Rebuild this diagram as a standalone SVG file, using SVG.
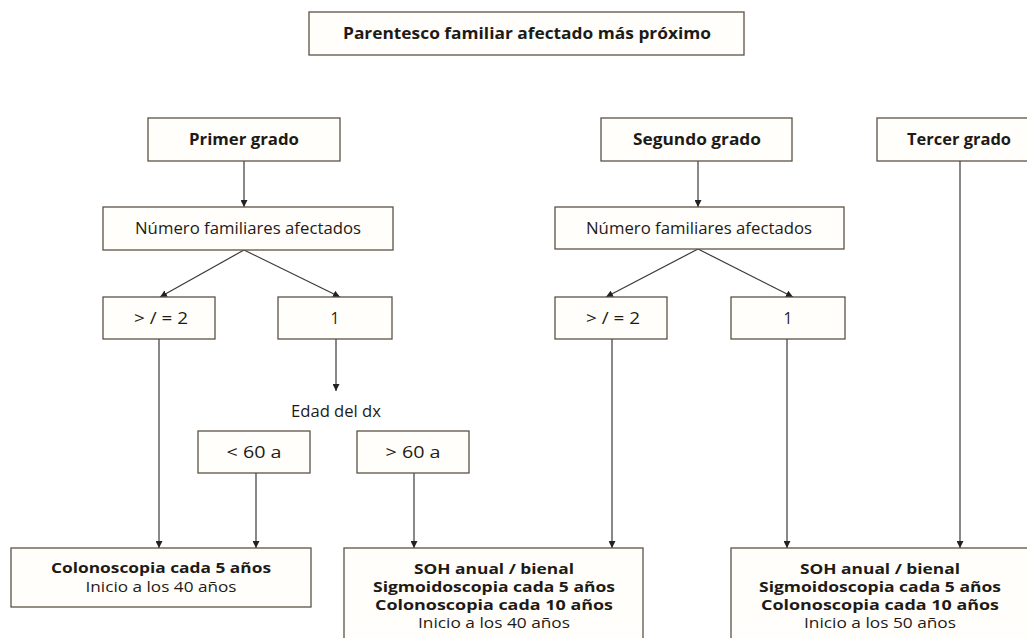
<svg xmlns="http://www.w3.org/2000/svg" width="1027" height="638" viewBox="0 0 1027 638">
<defs>
<style>
.box{fill:#fffefb;stroke:#5b5246;stroke-width:1.3}
.t{font-family:"Open Sans","Noto Sans","DejaVu Sans",sans-serif;font-size:15.5px;fill:#1e1a16;text-anchor:middle}
.s{font-size:14px}
.b{font-weight:bold}
.c line{stroke:#3a3a3a;stroke-width:1.2}
</style>
<marker id="ah" viewBox="0 0 10 10" refX="10" refY="5" markerWidth="7" markerHeight="7" orient="auto" markerUnits="userSpaceOnUse">
<path d="M0,0 L10,5 L0,10 z" fill="#222"/>
</marker>
</defs>
<rect width="1027" height="638" fill="#ffffff"/>

<g class="c">
<line x1="244" y1="161" x2="244" y2="207" marker-end="url(#ah)"/>
<line x1="244" y1="250" x2="160" y2="297" marker-end="url(#ah)"/>
<line x1="244" y1="250" x2="340" y2="297" marker-end="url(#ah)"/>
<line x1="159" y1="339" x2="159" y2="548" marker-end="url(#ah)"/>
<line x1="336" y1="339" x2="336" y2="391" marker-end="url(#ah)"/>
<line x1="256" y1="473" x2="256" y2="548" marker-end="url(#ah)"/>
<line x1="414" y1="473" x2="414" y2="548" marker-end="url(#ah)"/>
<line x1="698" y1="161" x2="698" y2="207" marker-end="url(#ah)"/>
<line x1="698" y1="249" x2="606" y2="297" marker-end="url(#ah)"/>
<line x1="698" y1="249" x2="793" y2="297" marker-end="url(#ah)"/>
<line x1="612" y1="339" x2="612" y2="548" marker-end="url(#ah)"/>
<line x1="787" y1="339" x2="787" y2="548" marker-end="url(#ah)"/>
<line x1="960" y1="161" x2="960" y2="548" marker-end="url(#ah)"/>
</g>

<g id="n-title"><rect class="box" x="309" y="12" width="435" height="43"/>
<text class="t b" x="527" y="39" textLength="368" lengthAdjust="spacingAndGlyphs">Parentesco familiar afectado más próximo</text></g>

<g id="n-primer"><rect class="box" x="148" y="118" width="192" height="43"/>
<text class="t b" x="244" y="145" textLength="110" lengthAdjust="spacingAndGlyphs">Primer grado</text></g>

<g id="n-segundo"><rect class="box" x="601" y="118" width="191" height="43"/>
<text class="t b" x="697" y="145" textLength="128" lengthAdjust="spacingAndGlyphs">Segundo grado</text></g>

<g id="n-tercer"><rect class="box" x="877" y="118" width="160" height="43"/>
<text class="t b" x="959" y="145" textLength="104" lengthAdjust="spacingAndGlyphs">Tercer grado</text></g>

<g id="n-num1"><rect class="box" x="103" y="207" width="290" height="43"/>
<text class="t" x="248" y="234" textLength="226" lengthAdjust="spacingAndGlyphs">Número familiares afectados</text></g>

<g id="n-num2"><rect class="box" x="555" y="207" width="289" height="42"/>
<text class="t" x="699" y="234" textLength="226" lengthAdjust="spacingAndGlyphs">Número familiares afectados</text></g>

<g id="n-ge2a"><rect class="box" x="103" y="297" width="112" height="42"/>
<text class="t" x="161" y="324" textLength="54" lengthAdjust="spacingAndGlyphs">&gt; / = 2</text></g>

<g id="n-one-a"><rect class="box" x="278" y="297" width="114" height="42"/>
<text class="t" x="335" y="324">1</text></g>

<g id="n-ge2b"><rect class="box" x="555" y="297" width="112" height="42"/>
<text class="t" x="613" y="324" textLength="54" lengthAdjust="spacingAndGlyphs">&gt; / = 2</text></g>

<g id="n-one-b"><rect class="box" x="731" y="297" width="114" height="42"/>
<text class="t" x="788" y="324">1</text></g>

<g id="n-edad"><text class="t" x="336" y="417" textLength="90" lengthAdjust="spacingAndGlyphs">Edad del dx</text></g>

<g id="n-lt60"><rect class="box" x="198" y="431" width="112" height="42"/>
<text class="t" x="254" y="458" textLength="55" lengthAdjust="spacingAndGlyphs">&lt; 60 a</text></g>

<g id="n-gt60"><rect class="box" x="357" y="431" width="112" height="42"/>
<text class="t" x="413" y="458" textLength="55" lengthAdjust="spacingAndGlyphs">&gt; 60 a</text></g>

<g id="n-res1"><rect class="box" x="11" y="548" width="300" height="59"/>
<text class="t s b" x="161" y="573" textLength="220" lengthAdjust="spacingAndGlyphs">Colonoscopia cada 5 años</text>
<text class="t s" x="161" y="592" textLength="151" lengthAdjust="spacingAndGlyphs">Inicio a los 40 años</text></g>

<g id="n-res2"><rect class="box" x="344" y="548" width="299" height="100"/>
<text class="t s b" x="494" y="574" textLength="160" lengthAdjust="spacingAndGlyphs">SOH anual / bienal</text>
<text class="t s b" x="494" y="592" textLength="242" lengthAdjust="spacingAndGlyphs">Sigmoidoscopia cada 5 años</text>
<text class="t s b" x="494" y="610" textLength="238" lengthAdjust="spacingAndGlyphs">Colonoscopia cada 10 años</text>
<text class="t s" x="494" y="628" textLength="152" lengthAdjust="spacingAndGlyphs">Inicio a los 40 años</text></g>

<g id="n-res3"><rect class="box" x="731" y="548" width="310" height="100"/>
<text class="t s b" x="880" y="574" textLength="160" lengthAdjust="spacingAndGlyphs">SOH anual / bienal</text>
<text class="t s b" x="880" y="592" textLength="242" lengthAdjust="spacingAndGlyphs">Sigmoidoscopia cada 5 años</text>
<text class="t s b" x="880" y="610" textLength="238" lengthAdjust="spacingAndGlyphs">Colonoscopia cada 10 años</text>
<text class="t s" x="880" y="628" textLength="152" lengthAdjust="spacingAndGlyphs">Inicio a los 50 años</text></g>
</svg>
